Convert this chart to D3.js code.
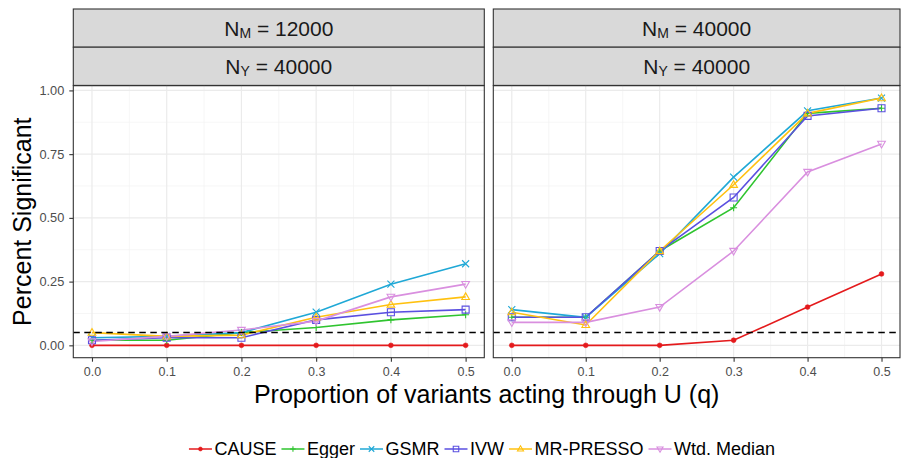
<!DOCTYPE html>
<html>
<head>
<meta charset="utf-8">
<script src="https://cdn.jsdelivr.net/npm/d3@7"></script>
<style>
  body { margin: 0; background: #fff; }
  svg { display: block; font-family: "Liberation Sans", Arial, Helvetica, sans-serif; }
</style>
</head>
<body>
<svg></svg>
<script>
// data
const qValues = [0, 0.1, 0.2, 0.3, 0.4, 0.5];
const methods = ["CAUSE", "Egger", "GSMR", "IVW", "MR-PRESSO", "Wtd. Median"];
const panelNM = ["12000", "40000"];
const panelNY = ["40000", "40000"];

// N_M = 12000
const causeLeft = [0, 0, 0, 0, 0, 0];
const eggerLeft = [0.02, 0.02, 0.05, 0.07, 0.10, 0.12];
const gsmrLeft = [0.03, 0.035, 0.05, 0.13, 0.24, 0.32];
const ivwLeft = [0.02, 0.03, 0.03, 0.10, 0.13, 0.14];
const prestoLeft = [0.05, 0.035, 0.04, 0.11, 0.16, 0.19];
const medianLeft = [0.015, 0.035, 0.06, 0.095, 0.19, 0.24];

// N_M = 40000
const causeRight = [0, 0, 0, 0.02, 0.15, 0.28];
const eggerRight = [0.11, 0.11, 0.37, 0.54, 0.91, 0.93];
const gsmrRight = [0.14, 0.11, 0.36, 0.66, 0.92, 0.97];
const ivwRight = [0.11, 0.11, 0.37, 0.58, 0.90, 0.93];
const prestoRight = [0.13, 0.08, 0.37, 0.63, 0.91, 0.97];
const medianRight = [0.09, 0.09, 0.15, 0.37, 0.68, 0.79];

const yTicks = [0, 0.25, 0.5, 0.75, 1.0];
const xTicks = [0, 0.1, 0.2, 0.3, 0.4, 0.5];
const threshold = 0.05;

const colors = ["#E41A1C", "#2FC42F", "#1FA8D6", "#5A4FE0", "#FFC10F", "#D98FDF"];
const shapes = ["circle", "plus", "cross", "square", "triangle", "triangleDown"];

const width = 902;
const height = 458;
const panels = [
  { left: 73.3, right: 484.3, series: [causeLeft, eggerLeft, gsmrLeft, ivwLeft, prestoLeft, medianLeft] },
  { left: 493.3, right: 900, series: [causeRight, eggerRight, gsmrRight, ivwRight, prestoRight, medianRight] },
];
const stripTop = 9;
const stripH = 38.2;
const panelTop = 85.7;
const panelBottom = 357.7;

const svg = d3.select("svg").attr("width", width).attr("height", height);

const allValues = panels.flatMap((p) => p.series.flat());
const yMax = d3.max(allValues);
const yScale = d3
  .scaleLinear()
  .domain([-0.05 * yMax, yMax * 1.05])
  .range([panelBottom, panelTop]);

const shapePath = (shape, s) => {
  const h = s / 2;
  switch (shape) {
    case "plus":
      return `M${-h},0H${h}M0,${-h}V${h}`;
    case "cross":
      return `M${-h},${-h}L${h},${h}M${-h},${h}L${h},${-h}`;
    case "square":
      return `M${-h},${-h}H${h}V${h}H${-h}Z`;
    case "triangle":
      return `M0,${-h * 1.15}L${h * 1.1},${h * 0.75}L${-h * 1.1},${h * 0.75}Z`;
    case "triangleDown":
      return `M0,${h * 1.15}L${h * 1.1},${-h * 0.75}L${-h * 1.1},${-h * 0.75}Z`;
    default:
      return d3.symbol(d3.symbolCircle, s * s * 0.6)();
  }
};

const drawPoint = (g, shape, color, x, y, s) => {
  g.append("path")
    .attr("d", shapePath(shape, s))
    .attr("transform", `translate(${x},${y})`)
    .attr("fill", shape === "circle" ? color : "none")
    .attr("stroke", color)
    .attr("stroke-width", shape === "circle" ? 0.6 : 1.1);
};

const drawStripLabel = (g, cx, cy, sub, value) => {
  const t = g.append("text")
    .attr("x", cx)
    .attr("y", cy)
    .attr("text-anchor", "middle")
    .attr("dominant-baseline", "central")
    .attr("fill", "#1A1A1A")
    .attr("font-size", 21);
  t.append("tspan").text("N");
  t.append("tspan").attr("font-size", 14).attr("dy", 5).text(sub);
  t.append("tspan").attr("dy", -5).text(" = " + value);
};

panels.forEach((p, pi) => {
  const g = svg.append("g");
  const xScale = d3
    .scaleLinear()
    .domain([-0.025, 0.525])
    .range([p.left, p.right]);

  // strips
  [panelNM[pi], panelNY[pi]].forEach((val, si) => {
    const y0 = stripTop + si * stripH;
    g.append("rect")
      .attr("x", p.left).attr("y", y0)
      .attr("width", p.right - p.left).attr("height", stripH)
      .attr("fill", "#D9D9D9").attr("stroke", "#333").attr("stroke-width", 1.1);
    drawStripLabel(g, (p.left + p.right) / 2, y0 + stripH / 2, si === 0 ? "M" : "Y", val);
  });

  // grid
  const grid = g.append("g");
  const yMinor = d3.range(0.125, 1, 0.25);
  const xMinor = d3.range(0.05, 0.5, 0.1);
  grid.selectAll(".ym").data(yMinor).join("line")
    .attr("x1", p.left).attr("x2", p.right)
    .attr("y1", (d) => yScale(d)).attr("y2", (d) => yScale(d))
    .attr("stroke", "#F2F2F2").attr("stroke-width", 0.7);
  grid.selectAll(".xm").data(xMinor).join("line")
    .attr("y1", panelTop).attr("y2", panelBottom)
    .attr("x1", (d) => xScale(d)).attr("x2", (d) => xScale(d))
    .attr("stroke", "#F2F2F2").attr("stroke-width", 0.7);
  grid.selectAll(".yM").data(yTicks).join("line")
    .attr("x1", p.left).attr("x2", p.right)
    .attr("y1", (d) => yScale(d)).attr("y2", (d) => yScale(d))
    .attr("stroke", "#EBEBEB").attr("stroke-width", 1.2);
  grid.selectAll(".xM").data(xTicks).join("line")
    .attr("y1", panelTop).attr("y2", panelBottom)
    .attr("x1", (d) => xScale(d)).attr("x2", (d) => xScale(d))
    .attr("stroke", "#EBEBEB").attr("stroke-width", 1.2);

  // lines
  const line = d3.line()
    .x((d, i) => xScale(qValues[i]))
    .y((d) => yScale(d));
  p.series.forEach((vals, mi) => {
    g.append("path")
      .attr("d", line(vals))
      .attr("fill", "none")
      .attr("stroke", colors[mi])
      .attr("stroke-width", 1.6);
  });
  p.series.forEach((vals, mi) => {
    vals.forEach((v, i) => drawPoint(g, shapes[mi], colors[mi], xScale(qValues[i]), yScale(v), mi === 0 ? 5.5 : 7));
  });

  // threshold line
  g.append("line")
    .attr("x1", p.left).attr("x2", p.right)
    .attr("y1", yScale(threshold)).attr("y2", yScale(threshold))
    .attr("stroke", "#000").attr("stroke-width", 1.5)
    .attr("stroke-dasharray", "6.5,4.5");

  // panel border
  g.append("rect")
    .attr("x", p.left).attr("y", panelTop)
    .attr("width", p.right - p.left).attr("height", panelBottom - panelTop)
    .attr("fill", "none").attr("stroke", "#333").attr("stroke-width", 1.1);

  // x axis
  const xAxis = d3.axisBottom(xScale).tickValues(xTicks).tickFormat(d3.format(".1f")).tickSize(4).tickPadding(5);
  const xg = g.append("g").attr("transform", `translate(0, ${panelBottom})`).call(xAxis);
  xg.select(".domain").remove();
  xg.selectAll(".tick line").attr("stroke", "#333").attr("stroke-width", 1.1);
  xg.selectAll(".tick text").attr("fill", "#4D4D4D").attr("font-size", 12.5).attr("font-family", null);

  if (pi === 0) {
    const yAxis = d3.axisLeft(yScale).tickValues(yTicks).tickFormat(d3.format(".2f")).tickSize(4).tickPadding(5);
    const yg = g.append("g").attr("transform", `translate(${p.left}, 0)`).call(yAxis);
    yg.select(".domain").remove();
    yg.selectAll(".tick line").attr("stroke", "#333").attr("stroke-width", 1.1);
    yg.selectAll(".tick text").attr("fill", "#4D4D4D").attr("font-size", 12.8).attr("font-family", null);
  }
});

// axis titles
svg.append("text")
  .attr("x", (panels[0].left + panels[1].right) / 2)
  .attr("y", 403)
  .attr("text-anchor", "middle")
  .attr("font-size", 25)
  .attr("fill", "#000")
  .text("Proportion of variants acting through U (q)");

svg.append("text")
  .attr("transform", `translate(30.5, ${(panelTop + panelBottom) / 2}) rotate(-90)`)
  .attr("text-anchor", "middle")
  .attr("font-size", 25)
  .attr("fill", "#000")
  .text("Percent Significant");

// legend
const legend = svg.append("g");
const keyW = 23;
let lx = 0;
methods.forEach((m, i) => {
  const item = legend.append("g").attr("transform", `translate(${lx}, 0)`);
  item.append("line")
    .attr("x1", 0).attr("x2", keyW).attr("y1", 0).attr("y2", 0)
    .attr("stroke", colors[i]).attr("stroke-width", 1.5);
  drawPoint(item, shapes[i], colors[i], keyW / 2, 0, i === 0 ? 4.5 : 5.5);
  const txt = item.append("text")
    .attr("x", keyW + 2.5)
    .attr("y", 0)
    .attr("dominant-baseline", "central")
    .attr("font-size", 18)
    .attr("fill", "#000")
    .text(m);
  lx += keyW + 2.5 + txt.node().getComputedTextLength() + 5;
});
const legendW = lx - 5;
legend.attr("transform", `translate(${482 - legendW / 2}, 449)`);
</script>
</body>
</html>
